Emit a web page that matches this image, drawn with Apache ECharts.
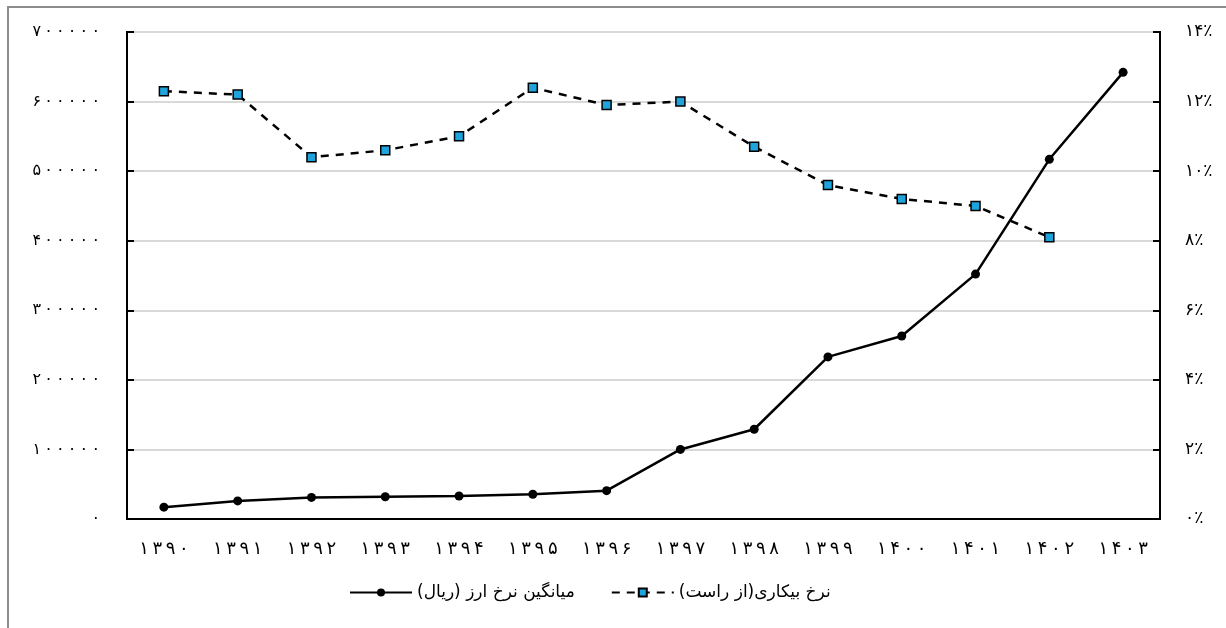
<!DOCTYPE html>
<html>
	<head>
		<meta charset="UTF-8">
		<title></title>
		<style>
			html, body { margin: 0; padding: 0; background: #fff; }
		</style>
	</head>
	<body>
		<div id="main" style="width:1226px;height:628px;"></div>

		<script src="https://cdn.jsdelivr.net/npm/echarts@6/dist/echarts.min.js"></script>
		<script>
			// years (shamsi)
			var years = ['۱۳۹۰', '۱۳۹۱', '۱۳۹۲', '۱۳۹۳', '۱۳۹۴', '۱۳۹۵', '۱۳۹۶', '۱۳۹۷', '۱۳۹۸', '۱۳۹۹', '۱۴۰۰', '۱۴۰۱', '۱۴۰۲', '۱۴۰۳'];
			// average exchange rate (rial)
			var rate = [17000, 26000, 31000, 32000, 33000, 35500, 40700, 100000, 129000, 233000, 263000, 352000, 517000, 642000];
			// unemployment rate (%), right axis
			var unemp = [12.3, 12.2, 10.4, 10.6, 11.0, 12.4, 11.9, 12.0, 10.7, 9.6, 9.2, 9.0, 8.1, null];

			var rateName = '\u202Bمیانگین نرخ ارز (ریال)\u202C';
			var unempName = '\u202Bنرخ بیکاری(از راست)\u202C';

			function toFa(v) {
				return String(v).replace(/[0-9]/g, function (d) { return '۰۱۲۳۴۵۶۷۸۹'.charAt(+d); });
			}
			// spread the digits a little, forced left-to-right
			function spaced(s, sep) {
				return '\u202D' + s.split('').join(sep) + '\u202C';
			}

			var font = 'DejaVu Sans';
			var myChart = echarts.init(document.getElementById('main'));
			myChart.setOption({
				animation: false,
				textStyle: { fontFamily: font },
				graphic: [{
					type: 'rect',
					shape: { x: 8, y: 7, width: 1240, height: 640 },
					style: { fill: 'none', stroke: '#8c8c8c', lineWidth: 2 },
					silent: true
				}],
				grid: {
					left: 127, right: 66, top: 32, bottom: 109,
					show: true, borderColor: '#000', borderWidth: 2
				},
				legend: {
					bottom: 22,
					left: 344,
					data: [rateName, unempName],
					itemWidth: 62,
					itemHeight: 10,
					itemGap: 36,
					textStyle: { fontFamily: font, fontSize: 17, color: '#000' }
				},
				xAxis: {
					type: 'category',
					data: years,
					boundaryGap: true,
					axisLine: { lineStyle: { color: '#000', width: 2 } },
					axisTick: { inside: true, length: 7, lineStyle: { color: '#000', width: 2 } },
					axisLabel: { color: '#000', fontSize: 18, margin: 21, formatter: function (v) { return spaced(v, '\u2009'); } },
					splitLine: { show: false }
				},
				yAxis: [{
					type: 'value',
					min: 0, max: 700000, interval: 100000,
					axisLine: { show: true, lineStyle: { color: '#000', width: 2 } },
					axisTick: { show: true, inside: true, length: 7, lineStyle: { color: '#000', width: 2 } },
					axisLabel: { color: '#000', fontSize: 16, margin: 27, formatter: function (v) { return spaced(toFa(v), '\u2009'); } },
					splitLine: { lineStyle: { color: '#d9d9d9', width: 2 } }
				}, {
					type: 'value',
					min: 0, max: 14, interval: 2,
					axisLine: { show: true, lineStyle: { color: '#000', width: 2 } },
					axisTick: { show: true, inside: true, length: 7, lineStyle: { color: '#000', width: 2 } },
					axisLabel: { color: '#000', fontSize: 17, margin: 25, formatter: function (v) { return toFa(v) + '٪'; } },
					splitLine: { show: false }
				}],
				series: [{
					name: rateName,
					type: 'line',
					yAxisIndex: 0,
					data: rate,
					symbol: 'circle',
					symbolSize: 9,
					itemStyle: { color: '#000' },
					lineStyle: { color: '#000', width: 2.5 },
					z: 3
				}, {
					name: unempName,
					type: 'line',
					yAxisIndex: 1,
					data: unemp,
					symbol: 'rect',
					symbolSize: 9,
					itemStyle: { color: '#1fa3dc', borderColor: '#000', borderWidth: 1.5 },
					lineStyle: { color: '#000', width: 2.5, type: [8, 7] },
					z: 2
				}]
			});
		</script>
	</body>
</html>
